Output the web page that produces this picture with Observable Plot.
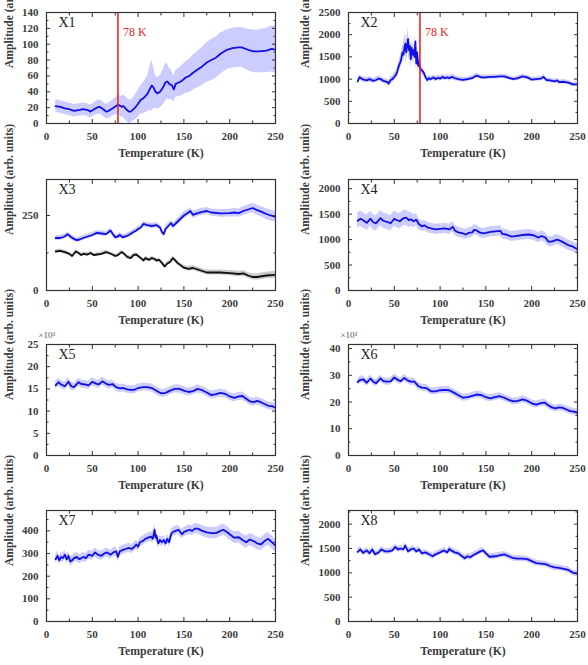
<!DOCTYPE html>
<html>
<head>
<meta charset="utf-8">
<script src="https://cdn.jsdelivr.net/npm/d3@7"></script>
<script src="https://cdn.jsdelivr.net/npm/@observablehq/plot@0.6"></script>
<style>
  body { margin: 0; background: #fff; }
  #fig { position: relative; width: 588px; height: 665px; overflow: hidden; }
  #fig svg { position: absolute; }
</style>
</head>
<body>
<div id="fig"></div>
<script>
// ---- Measured amplitude vs temperature, eight modes (X1 ... X8) ----
const markerT = 78; // K, marked in X1 and X2

const x1T   = [10,15,20,25,30,35,40,45,48,52,55,58,62,65,68,72,76,78,82,84,87,90,92,96,100,103,106,110,113,115,117,119,121,124,127,130,132,134,137,139,141,145,148,152,156,160,165,170,175,180,185,190,197,203,210,213,220,226,232,240,246,250];
const x1Amp = [22,21,19,18,16,17,18,17,15,18,20,21,18,15,16,19,22,24,21,22,18,15,15,19,25,30,32,37,44,48,45,40,38,40,45,52,53,50,48,43,50,52,54,58,60,64,68,72,77,80,83,88,93,95,96,96,93,91,91,92,94,93];
const x1Err = [8,8,8,8,8,8,8,8,8,8,9,9,9,9,10,10,11,12,13,14,15,15,14,15,17,18,20,22,28,32,26,20,20,20,22,24,22,20,18,16,17,18,19,20,21,22,23,24,25,26,26,26,25,25,25,25,26,27,27,28,29,30];

const x2T   = [10,12,15,18,20,23,27,30,33,35,38,40,42,44,46,48,50,52,53,55,57,59,60,61,62,63,64,65,66,67,68,69,70,71,72,73,74,75,76,77,78,80,82,84,86,88,90,93,95,98,100,103,105,108,110,113,115,118,120,125,130,135,138,140,145,150,155,160,165,170,175,180,185,190,195,200,205,210,213,216,220,225,228,230,235,240,245,250];
const x2Amp = [950,1040,1000,980,970,1000,960,980,1010,1000,960,950,940,900,980,1000,1050,1100,1150,1300,1400,1600,1550,1700,1800,1600,1750,1900,1650,1750,1450,1700,1550,1650,1500,1850,1350,1600,1300,1400,1250,1200,1150,1050,980,1020,1000,1040,1000,1030,1010,1050,1020,1040,1020,1050,1030,1010,1000,980,1000,1020,1060,1080,1040,1040,1050,1050,1060,1060,1030,1000,1020,1060,1040,990,1000,1010,1050,980,970,950,970,930,940,920,880,880];
const x2Err = [60,60,60,60,60,60,60,60,60,60,60,60,70,70,70,80,80,90,100,120,150,180,200,220,250,250,250,250,240,230,220,200,200,180,170,160,150,140,130,120,110,90,80,70,60,60,60,60,60,60,60,60,60,60,60,60,60,60,60,50,50,50,50,50,50,50,50,50,50,50,50,50,50,50,50,50,50,50,50,50,50,50,50,50,50,50,50,50];

const x3T      = [10,15,20,23,26,30,33,36,40,45,50,55,60,65,68,70,72,75,78,80,83,86,90,95,98,100,103,106,110,115,120,124,126,128,130,133,136,138,140,145,150,155,157,160,165,170,175,180,190,200,205,210,215,220,225,230,235,240,245,250];
const x3Amp    = [175,175,180,188,180,172,168,170,175,180,185,192,190,188,195,200,190,178,180,185,178,180,185,195,200,205,210,222,218,215,218,210,195,188,205,215,225,215,220,235,250,260,265,252,258,262,265,260,257,258,260,258,265,270,275,268,262,255,250,245];
const x3Err    = [8,8,8,8,8,8,8,8,8,8,8,8,8,8,8,8,8,8,8,8,8,8,8,8,8,8,8,9,9,9,9,9,9,9,10,10,10,10,10,11,12,12,12,12,12,12,12,12,13,13,14,14,15,15,16,17,17,18,18,18];
const x3RefT   = [10,15,20,25,28,32,35,38,40,45,48,52,55,60,65,68,72,75,78,82,85,88,92,95,98,100,103,106,108,112,115,118,120,123,126,129,132,135,138,140,143,147,150,155,160,165,170,175,180,190,200,210,215,220,225,230,240,250];
const x3RefAmp = [130,132,128,122,115,130,125,118,122,120,125,118,120,122,128,125,120,115,118,128,122,112,108,118,120,115,108,100,108,102,108,105,100,102,92,80,90,95,108,102,92,83,76,72,75,70,65,60,60,60,58,55,57,50,45,45,50,52];
const x3RefErr = [6,6,6,6,6,6,6,6,6,6,6,6,6,6,6,6,6,6,6,6,6,6,6,6,6,6,6,6,6,6,6,6,6,6,7,7,7,7,7,7,7,7,8,8,8,8,8,8,8,8,9,9,10,10,10,11,11,12];

const x4T   = [10,13,16,20,24,27,30,35,38,42,46,50,53,56,60,63,66,68,71,74,77,80,83,86,90,95,100,105,110,114,116,120,125,128,131,135,137,140,143,147,150,155,160,166,168,172,178,182,190,197,203,207,211,215,218,222,226,228,232,236,240,245,250];
const x4Amp = [1370,1410,1380,1330,1410,1340,1320,1420,1370,1350,1320,1410,1380,1360,1420,1430,1380,1400,1360,1390,1300,1260,1280,1240,1220,1200,1210,1220,1200,1250,1180,1140,1120,1100,1130,1140,1190,1180,1140,1120,1130,1150,1160,1170,1110,1100,1060,1070,1090,1100,1080,1040,1070,1040,960,960,990,1000,970,930,890,860,810];
const x4Err = [150,150,150,150,150,150,150,150,150,150,150,150,150,150,150,150,150,140,130,120,110,100,100,100,100,100,100,100,100,100,100,100,100,100,100,100,100,100,100,100,100,100,100,100,100,100,100,100,100,100,100,100,100,100,100,100,100,100,100,100,100,100,100];

const x5T   = [10,13,16,20,24,27,30,35,38,42,46,50,54,57,61,65,68,72,76,80,84,88,92,96,100,105,110,115,120,125,130,135,140,145,150,155,160,165,170,175,180,185,190,195,200,205,210,214,218,222,226,230,234,238,242,246,250];
const x5Amp = [15.8,16.5,16.0,15.6,16.6,15.6,15.4,16.5,16.1,16.0,15.8,16.6,16.2,16.0,16.7,16.2,15.9,16.1,15.4,15.1,15.2,14.9,14.8,14.8,15.2,15.4,15.4,15.2,14.6,14.0,14.1,14.6,15.0,15.0,14.6,14.3,14.5,15.0,14.7,14.2,13.6,13.8,14.1,13.9,13.3,13.0,13.3,13.4,12.8,12.2,12.0,12.3,12.0,11.6,11.2,11.1,10.8];
const x5Err = 0.9;

const x6T   = [10,13,16,20,24,27,30,35,38,42,46,50,54,57,61,65,68,72,76,80,85,90,95,100,105,110,115,120,125,130,135,140,145,150,155,160,165,170,175,180,185,190,195,200,205,210,214,218,222,226,230,234,238,242,246,250];
const x6Amp = [27.5,28.3,28.5,27.2,28.8,27.6,27.0,28.8,27.8,27.6,27.7,29.2,28.2,27.8,29.0,28.0,27.6,27.6,26.0,25.4,25.2,24.0,24.0,24.4,24.5,24.4,23.5,22.5,21.6,21.8,22.3,22.8,22.6,21.8,21.4,21.8,22.2,21.6,20.8,20.2,20.4,21.0,20.5,19.5,19.0,19.6,19.8,18.8,18.0,17.6,18.0,17.8,17.2,16.6,16.4,16.0];
const x6Err = 1.3;

const x7T   = [10,12,14,16,18,20,22,24,26,28,30,33,36,40,43,46,50,53,56,60,63,66,70,73,76,78,80,83,86,90,93,96,98,100,102,105,108,111,114,116,118,119,120,122,124,126,128,130,132,134,136,138,141,144,146,148,150,153,156,159,162,165,170,175,180,185,190,193,197,200,205,210,214,218,222,226,230,234,238,242,246,250];
const x7Amp = [275,290,270,285,280,295,275,290,265,270,280,285,275,285,280,295,290,305,295,290,300,305,295,305,310,285,310,315,320,325,320,330,340,330,350,355,365,370,375,365,405,370,380,345,360,350,360,345,365,350,385,395,400,405,395,385,395,400,405,400,410,410,400,393,390,390,400,405,395,385,370,372,360,350,362,355,345,340,355,365,350,335];
const x7Err = [20,20,20,20,20,20,20,20,20,20,20,20,20,20,20,20,20,20,20,20,20,20,20,20,20,20,20,20,20,20,20,20,20,20,20,20,20,20,22,22,25,22,22,20,20,20,20,20,20,20,20,20,20,20,20,20,21,21,22,22,23,23,24,24,25,25,25,25,25,25,26,26,26,27,27,27,28,28,28,28,28,28];

const x8T   = [10,13,16,20,23,26,29,33,36,40,44,48,51,54,57,60,62,65,68,71,74,77,80,84,88,92,95,100,104,108,110,113,116,120,124,127,130,133,136,140,144,147,150,154,160,165,170,175,180,185,190,195,200,205,210,215,220,225,230,235,240,245,250];
const x8Amp = [1430,1480,1410,1460,1400,1480,1380,1420,1480,1440,1440,1460,1530,1480,1500,1480,1560,1440,1480,1500,1440,1480,1400,1420,1380,1340,1380,1420,1460,1420,1490,1450,1420,1400,1340,1300,1340,1320,1360,1400,1440,1460,1400,1330,1340,1360,1380,1340,1300,1290,1290,1280,1240,1200,1190,1180,1140,1110,1100,1080,1060,1000,980];
const x8Err = 60;

// axis settings
const xTicks = [0, 50, 100, 150, 200, 250];
const xMinor = [25, 75, 125, 175, 225];
const xTitle = "Temperature (K)";
const yTitle = "Amplitude (arb. units)";

const BLUE = "#1010e6", BAND = "#0000ff", RED = "#e8261f", INK = "#333", TEXT = "#3c3c3c";
const FONT = "'Liberation Serif', serif";

function rows(T, A, E) {
  return T.map((t, i) => ({t, a: A[i], e: Array.isArray(E) ? E[i] : E}));
}

const panels = [
  {name: "X1", col: 0, row: 0, yMax: 140, yTicks: d3.range(0, 141, 20), yMinor: d3.range(10, 141, 20), marker: true,
   series: [{data: rows(x1T, x1Amp, x1Err), stroke: BLUE, fill: BAND}]},
  {name: "X2", col: 1, row: 0, yMax: 2500, yTicks: d3.range(0, 2501, 500), yMinor: d3.range(250, 2501, 500), marker: true,
   series: [{data: rows(x2T, x2Amp, x2Err), stroke: BLUE, fill: BAND}]},
  {name: "X3", col: 0, row: 1, yMax: 370, yTicks: [0, 250], yMinor: [125],
   series: [{data: rows(x3T, x3Amp, x3Err), stroke: BLUE, fill: BAND},
            {data: rows(x3RefT, x3RefAmp, x3RefErr), stroke: "#111", fill: "#000"}]},
  {name: "X4", col: 1, row: 1, yMax: 2180, yTicks: d3.range(0, 2001, 500), yMinor: d3.range(250, 2180, 500),
   series: [{data: rows(x4T, x4Amp, x4Err), stroke: BLUE, fill: BAND}]},
  {name: "X5", col: 0, row: 2, yMax: 25, yTicks: d3.range(0, 26, 5), yMinor: d3.range(2.5, 25, 5), scaleNote: "×10³",
   series: [{data: rows(x5T, x5Amp, x5Err), stroke: BLUE, fill: BAND}]},
  {name: "X6", col: 1, row: 2, yMax: 41.5, yTicks: d3.range(0, 41, 10), yMinor: d3.range(5, 41, 10), scaleNote: "×10³",
   series: [{data: rows(x6T, x6Amp, x6Err), stroke: BLUE, fill: BAND}]},
  {name: "X7", col: 0, row: 3, yMax: 490, yTicks: d3.range(0, 401, 100), yMinor: d3.range(50, 490, 100),
   series: [{data: rows(x7T, x7Amp, x7Err), stroke: BLUE, fill: BAND}]},
  {name: "X8", col: 1, row: 3, yMax: 2280, yTicks: d3.range(0, 2001, 500), yMinor: d3.range(250, 2280, 500),
   series: [{data: rows(x8T, x8Amp, x8Err), stroke: BLUE, fill: BAND}]}
];

const rowTop = [0, 167, 332, 498];
const colLeft = [0, 294];
const colMargins = [{left: 46, right: 19, titleDx: -37}, {left: 54, right: 11, titleDx: -43}];
const fmt = d3.format("d");

const fig = document.getElementById("fig");

for (const p of panels) {
  const m = colMargins[p.col];
  const marks = [];
  for (const s of p.series) {
    marks.push(Plot.areaY(s.data, {x: "t", y1: d => d.a - d.e, y2: d => d.a + d.e, fill: s.fill, fillOpacity: 0.2, clip: true}));
  }
  for (const s of p.series) {
    marks.push(Plot.lineY(s.data, {x: "t", y: "a", stroke: s.stroke, strokeWidth: 1.8, clip: true}));
  }
  if (p.marker) {
    marks.push(Plot.ruleX([markerT], {stroke: RED, strokeWidth: 1.6}));
    marks.push(Plot.text([markerT], {x: d => d, text: d => `${d} K`, frameAnchor: "top", dy: 15, dx: 5,
      textAnchor: "start", fill: RED, fontSize: 12}));
  }
  marks.push(
    Plot.frame({stroke: INK, strokeWidth: 1.2}),
    // inward ticks on all four sides
    Plot.axisX(xTicks, {anchor: "bottom", tickSize: -4, text: null, label: null, stroke: INK}),
    Plot.axisX(xMinor, {anchor: "bottom", tickSize: -2.5, text: null, label: null, stroke: INK}),
    Plot.axisX(xTicks, {anchor: "top", tickSize: -4, text: null, label: null, stroke: INK}),
    Plot.axisX(xMinor, {anchor: "top", tickSize: -2.5, text: null, label: null, stroke: INK}),
    Plot.axisY(p.yTicks, {anchor: "left", tickSize: -4, text: null, label: null, stroke: INK}),
    Plot.axisY(p.yMinor, {anchor: "left", tickSize: -2.5, text: null, label: null, stroke: INK}),
    Plot.axisY(p.yTicks, {anchor: "right", tickSize: -4, text: null, label: null, stroke: INK}),
    Plot.axisY(p.yMinor, {anchor: "right", tickSize: -2.5, text: null, label: null, stroke: INK}),
    // tick labels
    Plot.axisX(xTicks, {anchor: "bottom", tickSize: 0, tickPadding: 9, label: null, fontSize: 11, fontWeight: "bold", fill: TEXT, tickFormat: fmt}),
    Plot.axisY(p.yTicks, {anchor: "left", tickSize: 0, tickPadding: 8, label: null, fontSize: 11, fontWeight: "bold", fill: TEXT, tickFormat: fmt}),
    // titles
    Plot.text([xTitle], {text: d => d, frameAnchor: "bottom", dy: 33, fontSize: 11.8, fontWeight: "bold", fill: TEXT}),
    Plot.text([yTitle], {text: d => d, frameAnchor: "left", rotate: -90, dx: m.titleDx, fontSize: 11.6, fontWeight: "bold", fill: TEXT}),
    Plot.text([p.name], {text: d => d, frameAnchor: "top-left", dx: 12, dy: 5, textAnchor: "start", lineAnchor: "top", fontSize: 14, fill: "#222"})
  );
  if (p.scaleNote) {
    marks.push(Plot.text([p.scaleNote], {text: d => d, frameAnchor: "top-left", dx: -8, dy: -7,
      textAnchor: "start", lineAnchor: "bottom", fontSize: 9, fill: "#555"}));
  }
  const svg = Plot.plot({
    width: 294,
    height: 166,
    marginTop: 12,
    marginBottom: 43,
    marginLeft: m.left,
    marginRight: m.right,
    x: {domain: [0, 250]},
    y: {domain: [0, p.yMax]},
    style: {fontFamily: FONT, color: INK, background: "transparent", overflow: "visible"},
    marks
  });
  svg.style.left = colLeft[p.col] + "px";
  svg.style.top = rowTop[p.row] + "px";
  fig.appendChild(svg);
}
</script>
</body>
</html>
